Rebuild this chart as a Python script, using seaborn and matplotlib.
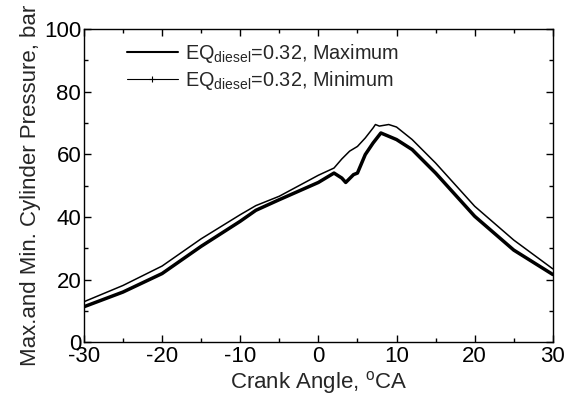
import matplotlib
matplotlib.use("Agg")
import matplotlib.pyplot as plt
import seaborn as sns
import pandas as pd
from matplotlib.lines import Line2D
from matplotlib.ticker import MultipleLocator

# Data
crank_max = [-30, -25, -20, -15, -10, -8, -5, 0, 2, 3, 4, 5, 6, 7, 7.3, 7.8, 9, 10, 12, 15, 20, 25, 30]
p_max = [12.9, 18.1, 24.3, 33.0, 40.7, 43.6, 46.6, 53.3, 55.6, 58.5, 61.0, 62.5, 65.2, 68.4, 69.5, 69.0, 69.5, 68.7, 64.7, 57.2, 43.4, 32.6, 23.4]

crank_min = [-30, -25, -20, -15, -10, -8, -5, 0, 2, 3, 3.5, 4.5, 5, 6, 7, 8, 10, 12, 15, 20, 25, 30]
p_min = [11.3, 16.0, 21.9, 30.6, 38.6, 42.1, 45.5, 51.0, 54.0, 52.4, 51.0, 53.5, 54.0, 59.9, 63.6, 66.8, 64.7, 61.5, 54.0, 40.2, 29.4, 21.6]

labels = ["EQ$_{\\mathrm{diesel}}$=0.32, Maximum", "EQ$_{\\mathrm{diesel}}$=0.32, Minimum"]

sns.set_style("ticks")
plt.rcParams['font.family'] = ['Liberation Sans', 'DejaVu Sans']
plt.rcParams['mathtext.fontset'] = 'custom'
plt.rcParams['mathtext.rm'] = 'Liberation Sans'
plt.rcParams['axes.unicode_minus'] = False

df_max = pd.DataFrame({"x": crank_max, "y": p_max})
df_min = pd.DataFrame({"x": crank_min, "y": p_min})

fig = plt.figure(figsize=(5.67, 4.03), dpi=100)
ax = fig.add_axes([0.148, 0.151, 0.975 - 0.148, 0.928 - 0.151])

sns.lineplot(data=df_max, x="x", y="y", ax=ax, color="black", linewidth=1.1)
sns.lineplot(data=df_min, x="x", y="y", ax=ax, color="black", linewidth=2.5)

ax.set_xlim(-30, 30)
ax.set_ylim(0, 100)
ax.xaxis.set_major_locator(MultipleLocator(10))
ax.xaxis.set_minor_locator(MultipleLocator(5))
ax.yaxis.set_major_locator(MultipleLocator(20))
ax.yaxis.set_minor_locator(MultipleLocator(10))
ax.tick_params(which='both', direction='in', top=True, right=True, labelsize=16, colors='black')
ax.tick_params(which='major', length=5, width=1, pad=2)
ax.tick_params(axis='x', which='major', pad=3)
ax.tick_params(which='minor', length=3, width=1)
for s in ax.spines.values():
    s.set_color('black')
    s.set_linewidth(1)

ax.set_xlabel("Crank Angle, $^{\\mathrm{o}}$CA", fontsize=16, labelpad=1)
ax.set_ylabel("Max.and Min. Cylinder Pressure, bar", fontsize=16, labelpad=2)

handles = [Line2D([], [], color='black', lw=1.5),
           Line2D([], [], color='black', lw=0.8, marker='+', markersize=4, markeredgewidth=0.8)]
ax.legend(handles, labels, loc='upper left', bbox_to_anchor=(0.092, 0.96), frameon=False,
          borderpad=0, borderaxespad=0,
          fontsize=14.3, handlelength=2.56, handletextpad=0.35, labelspacing=0.2)

fig.savefig("out.png", dpi=100)
